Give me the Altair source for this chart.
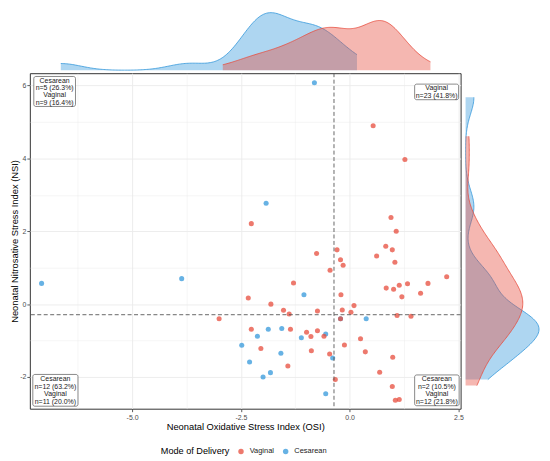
import altair as alt
import pandas as pd
import numpy as np

FONT = "Liberation Sans"

# ---------------- data ----------------
modes = ["Vaginal", "Cesarean"]
mode_colors = ["#E74C3C", "#3498DB"]

ces_osi = [-7.08, -3.86, -1.92, -0.81, -1.05, -1.87, -1.56, -2.12, -2.48, -1.58,
           -2.30, -1.82, -1.99, -1.11, -0.55, -0.39, -0.55, 0.38, -0.21]
ces_nsi = [0.57, 0.70, 2.77, 6.08, 0.26, -0.69, -0.67, -0.88, -1.13, -1.35,
           -1.59, -1.88, -2.00, -0.92, -0.82, -1.48, -2.46, -0.40, -0.40]

vag_osi = [-2.26, -1.29, -2.33, -1.81, -1.52, -0.76, -0.45, -0.74, -1.39,
           -3.00, -2.26, -1.36, -2.04, -1.42, -0.99, -0.74, -0.89, -0.59, -0.88, -0.46,
           -0.21, 0.25, -0.12, 0.36, 0.99, 0.69, -0.33, 0.98, 1.05, 1.14, 1.09, 1.41,
           1.07, 0.83, 0.98, 0.62, -0.29, -0.21, -0.15, 1.04, 2.23, 1.80, 1.33, 1.14,
           0.84, 1.01, 1.63, 1.20, -0.20, 0.10, -0.17, 0.03, 0.54, 1.27, 0.95]
vag_nsi = [2.21, 0.58, 0.17, 0.00, -0.17, 1.39, 0.93, -0.19, -0.27,
           -0.40, -0.69, -0.69, -1.22, -1.70, -0.77, -0.73, -0.89, -0.88, -1.28, -1.37,
           -0.40, -0.95, -1.12, -1.31, -1.46, -1.87, -2.07, -2.26, -2.64, -2.62, -0.31, -0.33,
           2.00, 1.59, 1.49, 1.32, 1.49, 1.22, 1.07, 1.15, 0.75, 0.57, 0.56, 0.52,
           0.44, 0.41, 0.30, 0.20, 0.26, -0.04, -0.16, -0.22, 4.90, 3.97, 2.38]

osi_cut = [-0.36]
nsi_cut = [-0.29]

x_title = "Neonatal Oxidative Stress Index (OSI)"
y_title = "Neonatal Nitrosative Stress Index (NSI)"
legend_title = "Mode of Delivery"

quad_texts = [
    ["Cesarean", "n=5 (26.3%)", "Vaginal", "n=9 (16.4%)"],    # top-left
    ["Vaginal", "n=23 (41.8%)"],                              # top-right
    ["Cesarean", "n=12 (63.2%)", "Vaginal", "n=11 (20.0%)"],  # bottom-left
    ["Cesarean", "n=2 (10.5%)", "Vaginal", "n=12 (21.8%)"],   # bottom-right
]

x_ticks = [-6.25, -5, -3.75, -2.5, -1.25, 0, 1.25, 2.5]
y_ticks = [-2, -1, 0, 1, 2, 3, 4, 5, 6]

df = pd.DataFrame({
    "OSI": ces_osi + vag_osi,
    "NSI": ces_nsi + vag_nsi,
    "Mode": ["Cesarean"] * len(ces_osi) + ["Vaginal"] * len(vag_osi),
})


def nrd0(v):
    v = np.asarray(v, dtype=float)
    sd = v.std(ddof=1)
    iqr = np.percentile(v, 75) - np.percentile(v, 25)
    lo = min(sd, iqr / 1.34) if iqr > 0 else sd
    return float(0.9 * lo * len(v) ** -0.2)


bw = {
    ("Cesarean", "OSI"): nrd0(ces_osi), ("Cesarean", "NSI"): nrd0(ces_nsi),
    ("Vaginal", "OSI"): nrd0(vag_osi), ("Vaginal", "NSI"): nrd0(vag_nsi),
}
color_of = dict(zip(modes, mode_colors))

# ---------------- sizes ----------------
W, H = 434, 338
TOP_H = 58
RIGHT_W = 74
TICK = 3
LAB_FS = 7
TITLE_FS = 9.4

major_x = "abs(datum.value % 2.5) < 1e-9"
major_y = "abs(datum.value % 2) < 1e-9"

x_axis = alt.Axis(
    values=x_ticks,
    labelExpr=f"{major_x} ? (datum.value < 0 ? '-' : '') + format(abs(datum.value), '.1f') : ''",
    tickOpacity={"condition": {"test": major_x, "value": 1}, "value": 0},
    gridWidth={"condition": {"test": major_x, "value": 0.9}, "value": 0.45},
    gridColor="#EBEBEB", grid=True, domain=False,
    tickSize=TICK, tickColor="#333333", tickWidth=0.8,
    labelFontSize=LAB_FS, labelColor="#4D4D4D", labelPadding=2, labelFont=FONT,
    labelFlush=False, labelOverlap=False,
    titleFontSize=TITLE_FS, titleFontWeight="normal", titleColor="#000000",
    titlePadding=2, titleFont=FONT,
)
y_axis = alt.Axis(
    values=y_ticks,
    labelExpr=f"{major_y} ? (datum.value < 0 ? '-' : '') + format(abs(datum.value), 'd') : ''",
    tickOpacity={"condition": {"test": major_y, "value": 1}, "value": 0},
    gridWidth={"condition": {"test": major_y, "value": 0.9}, "value": 0.45},
    gridColor="#EBEBEB", grid=True, domain=False,
    tickSize=TICK, tickColor="#333333", tickWidth=0.8,
    labelFontSize=LAB_FS, labelColor="#4D4D4D", labelPadding=1, labelFont=FONT,
    labelFlush=False, labelOverlap=False,
    titleFontSize=TITLE_FS, titleFontWeight="normal", titleColor="#000000",
    titlePadding=0.5, titleFont=FONT,
)

x_scale = alt.Scale(domain=[-7.35, 2.55], nice=False, zero=False)
y_scale = alt.Scale(domain=[-2.87, 6.34], nice=False, zero=False)

# ---------------- main panel ----------------
points = alt.Chart(df).mark_circle(size=26, opacity=0.75).encode(
    x=alt.X("OSI:Q", scale=x_scale, axis=x_axis, title=x_title),
    y=alt.Y("NSI:Q", scale=y_scale, axis=y_axis, title=y_title),
    color=alt.Color(
        "Mode:N",
        scale=alt.Scale(domain=modes, range=mode_colors),
        legend=alt.Legend(
            title=legend_title, orient="none", legendX=132, legendY=377,
            direction="horizontal", titleOrient="left",
            titleFontSize=9.2, titleFontWeight="normal", titleFont=FONT,
            titleColor="#000000", titlePadding=8,
            labelFontSize=7.5, labelFont=FONT, labelColor="#1A1A1A", labelOffset=5,
            symbolType="circle", symbolSize=30, symbolOpacity=0.75,
            symbolStrokeWidth=0, columnPadding=8,
        ),
    ),
)

vrule = alt.Chart(pd.DataFrame({"OSI": osi_cut})).mark_rule(
    color="#555555", strokeDash=[4, 2.5], strokeWidth=0.9
).encode(x=alt.X("OSI:Q", title=x_title))
hrule = alt.Chart(pd.DataFrame({"NSI": nsi_cut})).mark_rule(
    color="#555555", strokeDash=[4, 2.5], strokeWidth=0.9
).encode(y=alt.Y("NSI:Q", title=y_title))

# corner label boxes (anchored to the panel corners)
box_geom = [
    (4, 46, 3.3, 33.5),
    (387.7, 432, 11, 26.7),
    (3, 48.5, 303.5, 335.5),
    (387.7, 432.5, 304, 335),
]
LINE_H = 7.5
one = pd.DataFrame({"k": [0]})
annos = []
for lines, (x0, x1, y0, y1) in zip(quad_texts, box_geom):
    annos.append(
        alt.Chart(one).mark_rect(
            fill="white", stroke="#555555", strokeWidth=0.7, cornerRadius=2
        ).encode(x=alt.value(x0), x2=alt.value(x1), y=alt.value(y0), y2=alt.value(y1))
    )
    cy = (y0 + y1) / 2
    n = len(lines)
    for i, ln in enumerate(lines):
        annos.append(
            alt.Chart(one).mark_text(
                fontSize=7, align="center", baseline="middle", font=FONT, color="#1A1A1A",
            ).encode(x=alt.value((x0 + x1) / 2),
                     y=alt.value(cy + (i - (n - 1) / 2) * LINE_H + 0.3),
                     text=alt.value(ln))
        )

main = alt.layer(points, vrule, hrule, *annos).properties(
    width=W, height=H,
    view=alt.ViewBackground(stroke="#333333", strokeWidth=1, fill="white"),
)

# ---------------- marginal densities ----------------
top_layers = []
right_layers = []
for m in ["Cesarean", "Vaginal"]:
    c = color_of[m]
    top_layers.append(
        alt.Chart(df).transform_filter(alt.datum.Mode == m).transform_density(
            "OSI", as_=["OSI", "density"], bandwidth=bw[(m, "OSI")], steps=200
        ).mark_area(color=c, fillOpacity=0.4, line={"color": c, "strokeWidth": 0.8}).encode(
            x=alt.X("OSI:Q", scale=alt.Scale(domain=[-7.86, 2.99], nice=False, zero=False), axis=None),
            y=alt.Y("density:Q", scale=alt.Scale(zero=True, nice=False), axis=None),
        )
    )
    base_r = alt.Chart(df).transform_filter(alt.datum.Mode == m).transform_density(
        "NSI", as_=["NSI", "density"], bandwidth=bw[(m, "NSI")], steps=200
    )
    rx = alt.X("density:Q", scale=alt.Scale(zero=True, nice=False), axis=None)
    ry = alt.Y("NSI:Q", scale=alt.Scale(domain=[-3.34, 6.81], nice=False, zero=False), axis=None)
    right_layers.append(
        base_r.mark_area(orient="horizontal", color=c, fillOpacity=0.4).encode(x=rx, y=ry)
    )
    right_layers.append(
        base_r.mark_line(color=c, strokeWidth=0.8).encode(x=rx, y=ry, order=alt.Order("NSI:Q"))
    )

top = alt.layer(*top_layers).properties(
    width=W, height=TOP_H, view=alt.ViewBackground(stroke="transparent")
)
right = alt.layer(*right_layers).properties(
    width=RIGHT_W, height=H, view=alt.ViewBackground(stroke="transparent")
)

row = alt.hconcat(main, right, spacing=5, bounds="flush").resolve_scale(
    x="independent", y="independent", color="independent"
)
chart = alt.vconcat(top, row, spacing=3, bounds="flush").resolve_scale(
    x="independent", y="independent", color="independent"
).properties(padding=0, background="white").configure(font=FONT)

chart.save("out.html", embed_options={"renderer": "svg", "actions": False})
